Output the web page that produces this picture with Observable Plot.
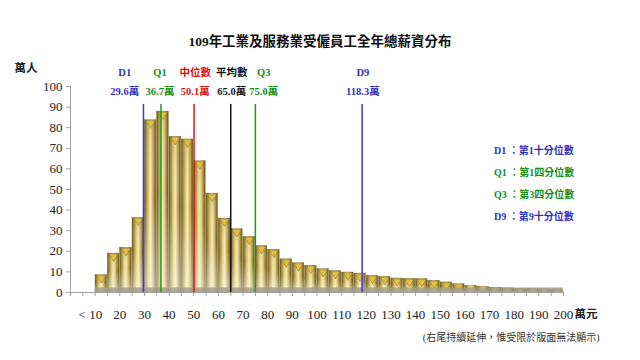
<!DOCTYPE html>
<html>
<head>
<meta charset="utf-8">
<script src="https://cdn.jsdelivr.net/npm/d3@7"></script>
<script src="https://cdn.jsdelivr.net/npm/@observablehq/plot@0.6"></script>
<style>
  html, body { margin: 0; padding: 0; background: #fff; }
  #wrap { position: relative; width: 640px; height: 360px; overflow: hidden; font-family: "Liberation Serif", "Noto Sans CJK TC", serif; }
  #title { height: 24px; padding-top: 30px; line-height: 24px; text-align: center; font-size: 13.5px; font-weight: bold; color: #111; }
  #legend { position: absolute; left: 494px; top: 140px; font-size: 10px; font-weight: bold; line-height: 22px; }
  svg { display: block; }
</style>
</head>
<body>
<div id="wrap">
  <div id="title">109年工業及服務業受僱員工全年總薪資分布</div>
  <div id="chart"></div>
  <div id="legend"></div>
</div>
<script>
// ---- data ----
const binStart = [10,15,20,25,30,35,40,45,50,55,60,65,70,75,80,85,90,95,100,105,110,115,120,125,130,135,140,145,150,155,160,165,170,175,180,185,190,195];
const counts = [8.4,18.9,21.7,36.2,83.6,87.8,75.6,74.3,63.7,48.0,35.9,30.7,27.0,22.6,20.7,16.1,14.2,13.0,11.3,10.4,9.7,9.2,8.1,7.6,6.8,6.6,6.5,5.7,4.9,4.0,3.2,2.7,2.3,2.0,1.7,1.6,1.5,1.1];
const statNames = ["D1","Q1","中位數","平均數","Q3","D9"];
const statValues = [29.6,36.7,50.1,65.0,75.0,118.3];
const labelAt = [22,36.3,50.6,65.4,78.4,118.6];
const xTickLabels = [10,20,30,40,50,60,70,80,90,100,110,120,130,140,150,160,170,180,190,200];
const xMinorTicks = d3.range(0, 205, 5);
const yTicks = [0,10,20,30,40,50,60,70,80,90,100];
const legendRows = [["D1","第1十分位數"],["Q1","第1四分位數"],["Q3","第3四分位數"],["D9","第9十分位數"]];
const unitX = "萬元", unitY = "萬人", valueUnit = "萬";
const note = "(右尾持續延伸，惟受限於版面無法顯示)";

// ---- styles ----
const statColor = {"D1":"#3b3bd6","Q1":"#1b9a1b","中位數":"#e01818","平均數":"#111111","Q3":"#1b9a1b","D9":"#3b3bd6"};
const textColor = {"D1":"#3030c0","Q1":"#178c17","中位數":"#e01010","平均數":"#111111","Q3":"#178c17","D9":"#3030c0"};

const bins = binStart.map((x0, i) => ({x0, x1: x0 + 5, n: counts[i]}));
const stats = statNames.map((name, i) => ({name, value: statValues[i], at: labelAt[i], label: statValues[i].toFixed(1) + valueUnit}));

const svg = Plot.plot({
  width: 640, height: 304,
  marginLeft: 70, marginRight: 77, marginTop: 32, marginBottom: 66,
  x: {domain: [0, 200], axis: null},
  y: {domain: [0, 100], axis: null},
  color: {type: "identity"},
  style: {fontFamily: "'Liberation Serif', 'Noto Sans CJK TC', serif", background: "transparent", overflow: "visible", color: "#222"},
  marks: [
    // bars
    Plot.rectY(bins, {x1: "x0", x2: "x1", y: "n", fill: "url(#goldH)", stroke: "#6e5d24", strokeWidth: 0.4, insetLeft: 0.4, insetRight: 0.4}),
    Plot.rectY(bins, {x1: "x0", x2: "x1", y: "n", fill: "url(#goldV)", insetLeft: 0.4, insetRight: 0.4}),
    Plot.dot(bins, {filter: d => d.n >= 4, x: d => d.x0 + 2.5, y: "n", symbol: "triangle", rotate: 180, r: 3.2, dy: 3, fill: "#e0c143", stroke: "#8a7226", strokeWidth: 0.5}),
    // floor band
    Plot.rectY(bins, {x1: "x0", x2: "x1", y1: 0, y2: 2.2, fill: "#a39a86", fillOpacity: 0.8}),
    // axes
    Plot.ruleX([0], {y1: 0, y2: 100, stroke: "#a0a0a0"}),
    Plot.ruleY([0], {x1: 0, x2: 200, stroke: "#a0a0a0"}),
    Plot.axisY({ticks: yTicks, tickSize: 4, tickPadding: 4, label: null, fontSize: 13, stroke: "#a0a0a0", fill: "#222"}),
    Plot.axisX({ticks: xMinorTicks, tickSize: 4, tickFormat: () => "", label: null, stroke: "#a0a0a0"}),
    Plot.text(xTickLabels.filter(d => d !== 10), {x: d => d, y: 0, dy: 22, text: d => String(d), fontSize: 13, fill: "#222"}),
    Plot.text([xTickLabels[0]], {x: d => d, y: 0, dy: 22, dx: 7, text: d => "< " + d, textAnchor: "end", fontSize: 13, fill: "#222"}),
    Plot.text([unitX], {x: 200, y: 0, dy: 22, dx: 11, text: d => d, textAnchor: "start", fontSize: 11.5, fontWeight: "bold", fill: "#222"}),
    Plot.text([unitY], {frameAnchor: "top-left", dx: -56, dy: -23, text: d => d, textAnchor: "start", fontSize: 11.5, fontWeight: "bold", fill: "#222"}),
    Plot.text([note], {frameAnchor: "bottom-right", dx: 36, dy: 48, text: d => d, textAnchor: "end", fontSize: 10, fill: "#333"}),
    // statistics
    Plot.ruleX(stats, {x: "value", y1: 0, y2: 91.3, stroke: d => statColor[d.name], strokeWidth: 1.5}),
    Plot.text(stats, {x: "at", y: 106.8, text: "name", fill: d => textColor[d.name], fontSize: 10.5, fontWeight: "bold"}),
    Plot.text(stats, {x: "at", y: 97.6, text: "label", fill: d => textColor[d.name], fontSize: 10.5, fontWeight: "bold"})
  ]
});

// gradients for the gold bars
const defs = d3.select(svg).insert("defs", ":first-child");
const gh = defs.append("linearGradient").attr("id", "goldH").attr("x1", 0).attr("x2", 1).attr("y1", 0).attr("y2", 0);
[["0%","#5f4f1a"],["14%","#a0832f"],["40%","#e6d38a"],["55%","#f4e8b4"],["78%","#c2a44a"],["100%","#5a4a18"]]
  .forEach(([o, c]) => gh.append("stop").attr("offset", o).attr("stop-color", c));
const gv = defs.append("linearGradient").attr("id", "goldV").attr("x1", 0).attr("x2", 0).attr("y1", 0).attr("y2", 1);
[["0%","#8a6e1c",0.2],["45%","#ffffff",0],["100%","#ffffff",0.5]]
  .forEach(([o, c, a]) => gv.append("stop").attr("offset", o).attr("stop-color", c).attr("stop-opacity", a));

document.getElementById("chart").appendChild(svg);

// legend
const legend = d3.select("#legend");
legendRows.forEach(([k, t]) => {
  legend.append("div").style("color", textColor[k]).text(k + " ：" + t);
});
</script>
</body>
</html>
